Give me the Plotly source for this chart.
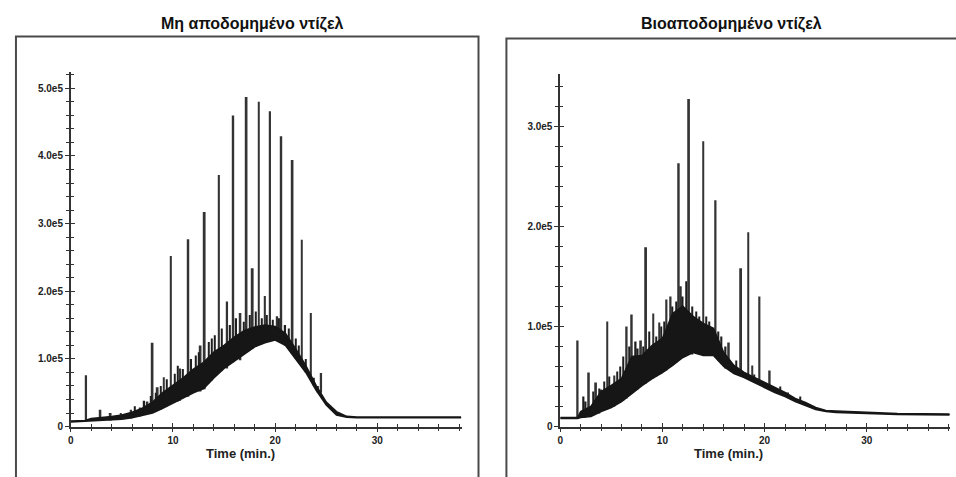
import plotly.graph_objects as go

W, H = 956, 477
SCALE = 1e5  # intensities below are given in units of 1e5 counts

# ---------------- Left panel: non-degraded diesel ----------------
left_title = "Μη αποδομημένο ντίζελ"
left_band_t = [0, 1.4, 2, 3, 4, 5, 6, 7, 8, 9, 10, 11, 12, 13, 14, 15, 16, 17, 18, 19,
               20, 21, 22, 23, 24, 25, 26, 27, 28, 30, 38.2]
left_band_lo = [0.07, 0.08, 0.09, 0.09, 0.10, 0.11, 0.13, 0.17, 0.20, 0.27, 0.35, 0.42, 0.50,
                0.56, 0.72, 0.86, 0.97, 1.08, 1.18, 1.24, 1.28, 1.20, 1.00, 0.80, 0.54, 0.32,
                0.17, 0.14, 0.13, 0.13, 0.13]
left_band_hi = [0.08, 0.09, 0.12, 0.13, 0.15, 0.17, 0.21, 0.27, 0.36, 0.50, 0.61, 0.72, 0.85,
                0.95, 1.10, 1.20, 1.32, 1.42, 1.47, 1.50, 1.48, 1.38, 1.15, 0.90, 0.61, 0.36,
                0.22, 0.15, 0.14, 0.14, 0.14]
left_peak_t = [1.5, 2.9, 3.9, 4.9, 5.9, 6.8, 7.5, 8.0, 8.5, 9.1, 9.8, 10.7, 11.5, 12.7, 13.1,
               14.5, 15.3, 15.9, 16.6, 17.2, 17.8, 18.4, 19.0, 19.5, 20.2, 20.6, 21.7, 22.6,
               23.5, 24.5, 25.3]
left_peak_h = [0.76, 0.25, 0.20, 0.20, 0.25, 0.28, 0.37, 1.24, 0.58, 0.73, 2.52, 0.86, 2.77,
               1.20, 3.17, 3.72, 1.85, 4.60, 1.68, 4.87, 2.34, 4.80, 1.93, 4.66, 1.63, 4.29,
               3.94, 2.76, 1.68, 0.79, 0.32]
left_peak_base = [0.08, 0.09, 0.09, 0.10, 0.12, 0.15, 0.19, 0.22, 0.25, 0.28, 0.34, 0.38, 0.44,
                  0.52, 0.55, 0.80, 0.86, 0.95, 0.98, 1.12, 1.15, 1.22, 1.24, 1.27, 1.30, 1.25,
                  1.08, 0.90, 0.75, 0.50, 0.30]
# small noise spikes riding on the hump
left_noise_t = [6.3, 7.2, 7.8, 8.3, 8.8, 9.4, 10.2, 10.5, 11.0, 11.8, 12.2, 12.5, 13.5, 13.8,
                14.1, 14.8, 15.6, 16.2, 16.9, 17.5, 18.1, 18.7, 19.2, 19.8, 20.4, 21.0, 21.3,
                22.0, 22.3, 23.0, 23.8, 24.2]
left_noise_h = [0.30, 0.38, 0.45, 0.50, 0.60, 0.70, 0.78, 0.90, 0.85, 1.00, 1.05, 1.10, 1.25,
                1.30, 1.35, 1.45, 1.50, 1.60, 1.55, 1.65, 1.70, 1.60, 1.65, 1.58, 1.60, 1.50,
                1.45, 1.30, 1.20, 1.00, 0.72, 0.60]
left_noise_base = [0.14, 0.18, 0.19, 0.22, 0.25, 0.30, 0.36, 0.37, 0.42, 0.48, 0.51, 0.53, 0.64,
                   0.68, 0.74, 0.82, 0.92, 0.99, 1.07, 1.13, 1.18, 1.22, 1.25, 1.27, 1.26, 1.20,
                   1.15, 1.00, 0.95, 0.80, 0.60, 0.50]
left_yticks = [0, 1, 2, 3, 4, 5]
left_yticklabels = ["0", "1.0e5", "2.0e5", "3.0e5", "4.0e5", "5.0e5"]

# ---------------- Right panel: biodegraded diesel ----------------
right_title = "Βιοαποδομημένο ντίζελ"
right_band_t = [0, 1.7, 2, 3, 4, 5, 6, 7, 8, 9, 10, 11, 12, 13, 14, 15, 16, 17, 18, 19,
                20, 21, 22, 23, 24, 25, 26, 27, 30, 33, 38.1]
right_band_lo = [0.08, 0.08, 0.09, 0.10, 0.15, 0.19, 0.25, 0.33, 0.41, 0.48, 0.54, 0.61, 0.69,
                 0.74, 0.71, 0.71, 0.60, 0.53, 0.49, 0.44, 0.39, 0.34, 0.30, 0.25, 0.21, 0.17,
                 0.15, 0.14, 0.13, 0.12, 0.115]
right_band_hi = [0.09, 0.09, 0.15, 0.20, 0.35, 0.41, 0.48, 0.70, 0.71, 0.81, 0.88, 1.13, 1.20,
                 1.10, 1.03, 0.98, 0.74, 0.61, 0.54, 0.49, 0.44, 0.39, 0.34, 0.28, 0.24, 0.19,
                 0.16, 0.155, 0.14, 0.13, 0.125]
right_peak_t = [1.7, 2.8, 3.5, 4.0, 4.6, 5.3, 6.5, 7.0, 7.9, 8.4, 9.1, 9.7, 10.4, 10.8, 11.3,
                11.6, 11.8, 12.6, 14.0, 15.2, 16.5, 17.7, 18.4, 18.8, 19.5, 20.5, 22.3]
right_peak_h = [0.86, 0.54, 0.44, 0.37, 1.05, 0.51, 1.00, 1.12, 0.86, 1.79, 1.13, 1.04, 1.27,
                1.30, 1.13, 2.63, 1.40, 3.27, 2.85, 2.26, 0.84, 1.58, 1.94, 0.61, 1.30, 0.56,
                0.34]
right_peak_base = [0.08, 0.11, 0.13, 0.15, 0.17, 0.20, 0.28, 0.33, 0.40, 0.43, 0.48, 0.52, 0.56,
                   0.60, 0.64, 0.68, 0.70, 0.72, 0.71, 0.70, 0.58, 0.52, 0.49, 0.47, 0.44, 0.39,
                   0.30]
right_noise_t = [2.3, 2.5, 3.2, 3.8, 4.3, 4.8, 5.6, 5.9, 6.2, 6.8, 7.4, 7.6, 8.1, 8.7, 9.4,
                 9.9, 10.2, 11.0, 11.4, 12.0, 12.3, 12.9, 13.3, 13.6, 14.3, 14.6, 15.5, 15.8,
                 16.2, 17.2, 19.0, 21.5, 23.5]
right_noise_h = [0.30, 0.25, 0.35, 0.38, 0.45, 0.50, 0.55, 0.60, 0.70, 0.80, 0.85, 0.78, 0.80,
                 0.95, 0.90, 1.00, 1.05, 1.20, 1.25, 1.30, 1.45, 1.20, 1.15, 1.10, 1.10, 1.05,
                 0.95, 0.90, 0.80, 0.66, 0.52, 0.40, 0.30]
right_noise_base = [0.09, 0.09, 0.11, 0.13, 0.17, 0.19, 0.23, 0.25, 0.26, 0.31, 0.36, 0.37,
                    0.42, 0.46, 0.50, 0.53, 0.55, 0.61, 0.64, 0.69, 0.71, 0.72, 0.73, 0.73,
                    0.71, 0.71, 0.66, 0.63, 0.58, 0.52, 0.44, 0.32, 0.25]
right_yticks = [0, 1, 2, 3]
right_yticklabels = ["0", "1.0e5", "2.0e5", "3.0e5"]

xticks = [0, 10, 20, 30]
xticklabels = ["0", "10", "20", "30"]
x_label = "Time (min.)"

INK = "#161616"
AXC = "#333333"
FONT = "Liberation Sans"


def px(x):
    return x / W


def py(y):
    return 1 - y / H


fig = go.Figure()


def add_spikes(xa, ya, ts, hs, bs, width, color):
    fig.add_trace(go.Bar(
        x=ts, y=[(h - b) * SCALE for h, b in zip(hs, bs)],
        base=[b * SCALE for b in bs], width=width,
        marker=dict(color=color, line=dict(width=0)),
        xaxis=xa, yaxis=ya, showlegend=False, hoverinfo="skip"))


def add_panel(xa, ya, band_t, lo, hi, pk_t, pk_h, pk_b, nz_t, nz_h, nz_b):
    add_spikes(xa, ya, pk_t, pk_h, pk_b, 0.18, "#333333")
    add_spikes(xa, ya, nz_t, nz_h, nz_b, 0.13, "#1e1e1e")
    fig.add_trace(go.Scatter(
        x=band_t, y=[v * SCALE for v in lo], mode="lines",
        line=dict(color=INK, width=1.6), xaxis=xa, yaxis=ya,
        showlegend=False, hoverinfo="skip"))
    fig.add_trace(go.Scatter(
        x=band_t, y=[v * SCALE for v in hi], mode="lines", fill="tonexty",
        fillcolor=INK, line=dict(color=INK, width=1.6), xaxis=xa, yaxis=ya,
        showlegend=False, hoverinfo="skip"))


add_panel("x", "y", left_band_t, left_band_lo, left_band_hi,
          left_peak_t, left_peak_h, left_peak_base,
          left_noise_t, left_noise_h, left_noise_base)
add_panel("x2", "y2", right_band_t, right_band_lo, right_band_hi,
          right_peak_t, right_peak_h, right_peak_base,
          right_noise_t, right_noise_h, right_noise_base)

# empty traces so that overlay (inside-tick) axes get drawn
for xa, ya in [("x3", "y"), ("x", "y3"), ("x4", "y2"), ("x2", "y4")]:
    fig.add_trace(go.Scatter(x=[None], y=[None], xaxis=xa, yaxis=ya,
                             showlegend=False, hoverinfo="skip"))

tickfont = dict(family=FONT, size=10, color="#222", weight="bold")

common = dict(showgrid=False, zeroline=False, fixedrange=True)


def main_x(dom, rng, anchor):
    return dict(domain=dom, range=rng, anchor=anchor, showline=True, linecolor=AXC,
                linewidth=1.6, ticks="outside", ticklen=4, tickwidth=1.3, tickcolor=AXC,
                tickvals=xticks, ticktext=xticklabels, tickfont=tickfont,
                minor=dict(dtick=2, tick0=0, ticks="outside", ticklen=3, tickwidth=1.2,
                           tickcolor=AXC),
                **common)


def over_x(over, rng, anchor):
    return dict(overlaying=over, range=rng, anchor=anchor, showline=False,
                ticks="inside", ticklen=4, tickwidth=1.3, tickcolor=AXC,
                tickvals=xticks, showticklabels=False,
                minor=dict(dtick=2, tick0=0, ticks="inside", ticklen=3, tickwidth=1.2,
                           tickcolor=AXC),
                **common)


def main_y(dom, rng, anchor, tv, tt):
    return dict(domain=dom, range=rng, anchor=anchor, showline=True, linecolor=AXC,
                linewidth=1.6, ticks="outside", ticklen=4, tickwidth=1.3, tickcolor=AXC,
                tickvals=[v * SCALE for v in tv], ticktext=tt, tickfont=tickfont,
                minor=dict(dtick=0.2 * SCALE, tick0=0, ticks="outside", ticklen=3,
                           tickwidth=1.2, tickcolor=AXC),
                **common)


def over_y(over, rng, anchor, tv):
    return dict(overlaying=over, range=rng, anchor=anchor, showline=False,
                ticks="inside", ticklen=4, tickwidth=1.3, tickcolor=AXC,
                tickvals=[v * SCALE for v in tv], showticklabels=False,
                minor=dict(dtick=0.2 * SCALE, tick0=0, ticks="inside", ticklen=3,
                           tickwidth=1.2, tickcolor=AXC),
                **common)


lx_dom = [px(68), px(460)]
rx_dom = [px(559), px(950)]
ly_dom = [py(432), py(73)]
ry_dom = [py(432), py(75)]
lx_rng = [0, 38.24]
rx_rng = [0, 38.15]
ly_rng = [0, 5.24 * SCALE]
ry_rng = [0, 3.52 * SCALE]

fig.update_layout(
    width=W, height=H, margin=dict(l=0, r=0, t=0, b=0),
    paper_bgcolor="white", plot_bgcolor="white", barmode="overlay",
    xaxis=main_x(lx_dom, lx_rng, "y"),
    yaxis=main_y(ly_dom, ly_rng, "x", left_yticks, left_yticklabels),
    xaxis2=main_x(rx_dom, rx_rng, "y2"),
    yaxis2=main_y(ry_dom, ry_rng, "x2", right_yticks, right_yticklabels),
    xaxis3=over_x("x", lx_rng, "y"),
    yaxis3=over_y("y", ly_rng, "x", left_yticks),
    xaxis4=over_x("x2", rx_rng, "y2"),
    yaxis4=over_y("y2", ry_rng, "x2", right_yticks),
)

frame = dict(color="#4a4a4a", width=2)
fig.add_shape(type="rect", xref="paper", yref="paper",
              x0=px(13), x1=px(477), y0=py(490), y1=py(37), line=frame)
fig.add_shape(type="rect", xref="paper", yref="paper",
              x0=px(505), x1=px(970), y0=py(490), y1=py(39), line=frame)

title_font = dict(family=FONT, size=16, color="#111", weight="bold")
fig.add_annotation(text=left_title, x=px(250), y=py(24), xref="paper", yref="paper",
                   showarrow=False, xanchor="center", yanchor="middle", font=title_font)
fig.add_annotation(text=right_title, x=px(731), y=py(24), xref="paper", yref="paper",
                   showarrow=False, xanchor="center", yanchor="middle", font=title_font)

lab_font = dict(family=FONT, size=13, color="#222", weight="bold")
fig.add_annotation(text=x_label, x=px(238), y=py(459), xref="paper", yref="paper",
                   showarrow=False, xanchor="center", yanchor="middle", font=lab_font)
fig.add_annotation(text=x_label, x=px(728), y=py(459), xref="paper", yref="paper",
                   showarrow=False, xanchor="center", yanchor="middle", font=lab_font)

fig.write_html("out.html")
